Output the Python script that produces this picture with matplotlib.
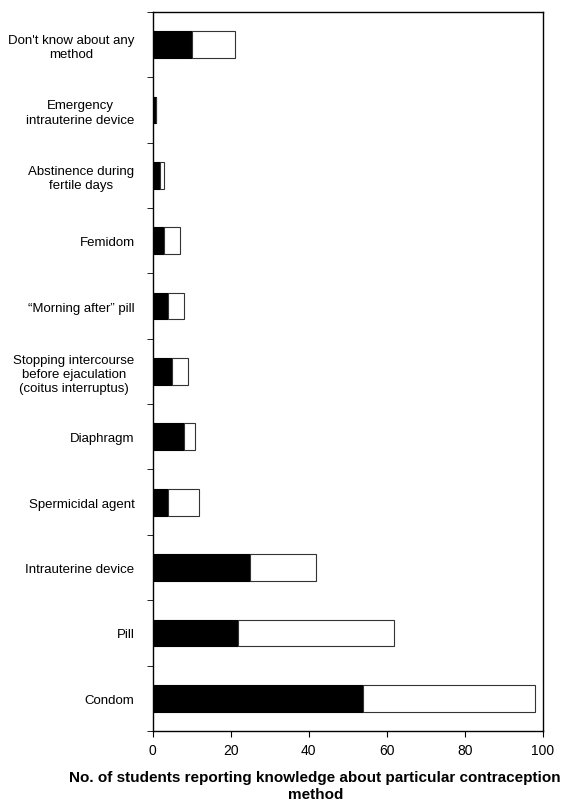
import numpy as np
import matplotlib.pyplot as plt

plt.rcParams['font.family'] = ['Liberation Sans', 'DejaVu Sans']

# categories from bottom to top
methods = ["Condom", "Pill", "Intrauterine device", "Spermicidal agent", "Diaphragm",
           "Stopping intercourse\nbefore ejaculation\n(coitus interruptus)",
           "\u201cMorning after\u201d pill", "Femidom", "Abstinence during\nfertile days",
           "Emergency\nintrauterine device", "Don't know about any\nmethod"]
black_part = [54, 22, 25, 4, 8, 5, 4, 3, 2, 1, 10]
totals = [98, 62, 42, 12, 11, 9, 8, 7, 3, 1, 21]
white_part = [t - b for t, b in zip(totals, black_part)]

fig = plt.figure(figsize=(5.63, 8.04), dpi=100)
ax = fig.add_axes([0.271, 0.0896, 0.693, 0.8944])

y = np.arange(len(methods))
h = 0.41
ax.barh(y, black_part, height=h, color='black', edgecolor='black', linewidth=0.8)
ax.barh(y, white_part, left=black_part, height=h, color='white', edgecolor='#333333', linewidth=0.8)

ax.set_xlim(0, 100)
ax.set_ylim(-0.5, len(methods) - 0.5)
ax.set_xticks(np.arange(0, 101, 20))
ax.tick_params(axis='x', labelsize=10, length=4, direction='out', pad=5)

ax.set_yticks(y)
ax.set_yticklabels(methods, fontsize=9.5, ha='right', multialignment='center', linespacing=1.25)
ax.tick_params(axis='y', which='major', length=0, pad=13)
ax.set_yticks(np.arange(-0.5, len(methods)), minor=True)
ax.tick_params(axis='y', which='minor', length=4, direction='out')

for s in ax.spines.values():
    s.set_linewidth(1.0)

fig.text(0.56, 0.0215, "No. of students reporting knowledge about particular contraception\nmethod",
         fontsize=11, fontweight='bold', ha='center', va='center', multialignment='center',
         linespacing=1.25)

fig.savefig("out.png", dpi=100)
